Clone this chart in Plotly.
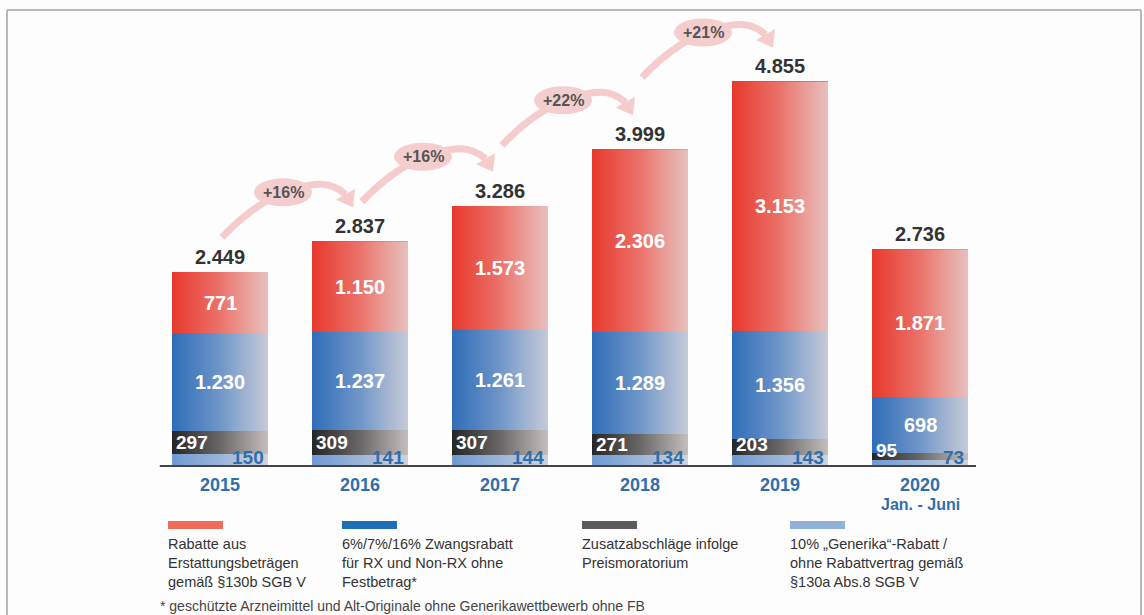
import plotly.graph_objects as go

# ---------------- data ----------------
years = ["2015", "2016", "2017", "2018", "2019", "2020"]
year_sub = ["", "", "", "", "", "Jan. - Juni"]
generika = [150, 141, 144, 134, 143, 73]          # 10% Generika-Rabatt (light blue)
moratorium = [297, 309, 307, 271, 203, 95]        # Zusatzabschläge Preismoratorium (dark gray)
zwangsrabatt = [1230, 1237, 1261, 1289, 1356, 698]  # 6/7/16% Zwangsrabatt (blue)
erstattung = [771, 1150, 1573, 2306, 3153, 1871]  # Erstattungsbeträge §130b (red)
totals = [2449, 2837, 3286, 3999, 4855, 2736]
growth_labels = ["+16%", "+16%", "+22%", "+21%"]

def de(v):
    return f"{v:,}".replace(",", ".")

# ---------------- layout geometry ----------------
W, H = 1144, 615
X_ORIGIN_PX, PX_PER_CAT = 220, 140
Y_BASE_PX, PX_PER_UNIT = 466, 0.0792
BAR_W = 96 / PX_PER_CAT

xr = [-X_ORIGIN_PX / PX_PER_CAT, (W - X_ORIGIN_PX) / PX_PER_CAT]
yr = [-(H - Y_BASE_PX) / PX_PER_UNIT, Y_BASE_PX / PX_PER_UNIT]

def dpx(xv, yv):
    return X_ORIGIN_PX + PX_PER_CAT * xv, Y_BASE_PX - PX_PER_UNIT * yv

def pp(px, py):
    return px / W, 1 - py / H

FONT = "Arial, Liberation Sans, sans-serif"
BLUE_TXT = "#2f6eaa"
NUM_SIZE = 20

xs = list(range(len(years)))

fig = go.Figure()
series = [
    ("10% „Generika“-Rabatt", generika, "#6f9bd2"),
    ("Zusatzabschläge", moratorium, "#262626"),
    ("Zwangsrabatt", zwangsrabatt, "#2f6db8"),
    ("Erstattungsbeträge", erstattung, "#e8382c"),
]
for name, vals, col in series:
    fig.add_trace(go.Bar(x=xs, y=vals, name=name, width=BAR_W,
                         marker=dict(color=col, line=dict(width=0)),
                         showlegend=False, hoverinfo="skip"))

# gradient sheen over each bar (left saturated -> right pale)
for i, t in enumerate(totals):
    fig.add_trace(go.Scatter(
        x=[i - BAR_W / 2, i + BAR_W / 2, i + BAR_W / 2, i - BAR_W / 2, i - BAR_W / 2],
        y=[0, 0, t, t, 0], mode="lines", fill="toself",
        line=dict(width=0), showlegend=False, hoverinfo="skip",
        fillgradient=dict(type="horizontal",
                          colorscale=[[0, "rgba(240,232,232,0.0)"],
                                      [0.5, "rgba(240,232,232,0.33)"],
                                      [1, "rgba(230,222,222,0.82)"]])))

fig.update_layout(
    barmode="stack", bargap=0,
    width=W, height=H, margin=dict(l=0, r=0, t=0, b=0),
    paper_bgcolor="#fdfdfd", plot_bgcolor="#fdfdfd",
    xaxis=dict(range=xr, visible=False, fixedrange=True),
    yaxis=dict(range=yr, visible=False, fixedrange=True),
    showlegend=False,
)

shapes = []
ann = []

# baseline
shapes.append(dict(type="line", xref="x", yref="y", x0=-0.43, x1=5.4, y0=0, y1=0,
                   line=dict(color="#444444", width=2)))

# frame
fx0, fy0 = pp(7, 10)
fx1, _ = pp(1141, 10)
_, fyb = pp(0, H + 5)
for (a0, a1, b0, b1) in [(fx0, fx1, fy0, fy0), (fx0, fx0, fy0, fyb), (fx1, fx1, fy0, fyb)]:
    shapes.append(dict(type="line", xref="paper", yref="paper", x0=a0, x1=a1, y0=b0, y1=b1,
                       line=dict(color="#b8b8b8", width=2)))

# value labels
for i in xs:
    g, m, z, e, t = generika[i], moratorium[i], zwangsrabatt[i], erstattung[i], totals[i]
    ann.append(dict(x=i, y=t, xref="x", yref="y", text=f"<b>{de(t)}</b>", showarrow=False,
                    yanchor="bottom", yshift=2, font=dict(family=FONT, size=NUM_SIZE, color="#333333")))
    ann.append(dict(x=i, y=g + m + z + e / 2, xref="x", yref="y", text=f"<b>{de(e)}</b>",
                    showarrow=False, font=dict(family=FONT, size=NUM_SIZE, color="white")))
    ann.append(dict(x=i, y=g + m + z / 2, xref="x", yref="y", text=f"<b>{de(z)}</b>",
                    showarrow=False, font=dict(family=FONT, size=NUM_SIZE, color="white")))
    seg_px = m * PX_PER_UNIT
    ys = max(0, (20 - seg_px) / 2)
    ann.append(dict(x=i - BAR_W / 2, y=g + m / 2, xref="x", yref="y", text=f"<b>{de(m)}</b>",
                    showarrow=False, xanchor="left", xshift=2, yshift=ys,
                    font=dict(family=FONT, size=NUM_SIZE - 1, color="white")))
    ann.append(dict(x=i + BAR_W / 2, y=0, xref="x", yref="y", text=f"<b>{de(g)}</b>",
                    showarrow=False, xanchor="right", xshift=-2, yshift=9,
                    font=dict(family=FONT, size=NUM_SIZE - 1, color=BLUE_TXT)))
    ann.append(dict(x=i, y=0, xref="x", yref="y", text=f"<b>{years[i]}</b>", showarrow=False,
                    yshift=-19, font=dict(family=FONT, size=18, color=BLUE_TXT)))
    if year_sub[i]:
        ann.append(dict(x=i, y=0, xref="x", yref="y", text=f"<b>{year_sub[i]}</b>",
                        showarrow=False, yshift=-38, font=dict(family=FONT, size=16, color=BLUE_TXT)))

# growth arrows
ARROW_COL = "rgba(244,200,200,0.95)"
for k, lab in enumerate(growth_labels):
    cx_i, top_i = dpx(k, totals[k])
    cx_n, top_n = dpx(k + 1, totals[k + 1])
    tx, ty = cx_n - 7, top_n - 34
    ex, ey = cx_i + 63, ty - 15
    sx, sy = cx_i + 2, ty + 30
    dx, dy = 0.5, 0.866
    bx, by = tx - 15 * dx, ty - 15 * dy
    nx, ny = -dy, dx
    p = lambda X, Y: "%.5f,%.5f" % pp(X, Y)
    shapes.append(dict(type="path", xref="paper", yref="paper",
                       path=f"M {p(sx, sy)} Q {p(sx + 28, sy - 30)} {p(ex, ey)}",
                       line=dict(color=ARROW_COL, width=7)))
    shapes.append(dict(type="path", xref="paper", yref="paper",
                       path=f"M {p(ex, ey)} C {p(ex + 35, ey - 12)} {p(bx - 14, ey - 10)} {p(bx, by)}",
                       line=dict(color=ARROW_COL, width=7)))
    shapes.append(dict(type="path", xref="paper", yref="paper",
                       path=f"M {p(tx, ty)} L {p(bx + 11 * nx, by + 11 * ny)} L {p(bx - 11 * nx, by - 11 * ny)} Z",
                       fillcolor=ARROW_COL, line=dict(width=0)))
    e0x, e0y = pp(ex - 29, ey - 14)
    e1x, e1y = pp(ex + 29, ey + 14)
    shapes.append(dict(type="circle", xref="paper", yref="paper", x0=e0x, x1=e1x, y0=e1y, y1=e0y,
                       fillcolor="#f4cdcd", line=dict(width=0)))
    axp, ayp = pp(ex, ey)
    ann.append(dict(x=axp, y=ayp, xref="paper", yref="paper", text=f"<b>{lab}</b>",
                    showarrow=False, xanchor="center", yanchor="middle",
                    font=dict(family=FONT, size=16, color="#555555")))

# custom legend
legend_items = [
    ("Rabatte aus<br>Erstattungsbeträgen<br>gemäß §130b SGB V", "#ef6c5a", 168),
    ("6%/7%/16% Zwangsrabatt<br>für RX und Non-RX ohne<br>Festbetrag*", "#1f6fb6", 342),
    ("Zusatzabschläge infolge<br>Preismoratorium", "#5b5b5b", 582),
    ("10% „Generika“-Rabatt /<br>ohne Rabattvertrag gemäß<br>§130a Abs.8 SGB V", "#8fb1da", 790),
]
for text, col, lx in legend_items:
    x0, y0 = pp(lx, 521)
    x1, y1 = pp(lx + 55, 529)
    shapes.append(dict(type="rect", xref="paper", yref="paper", x0=x0, x1=x1, y0=y1, y1=y0,
                       fillcolor=col, line=dict(width=0)))
    ax, ay = pp(lx - 2, 534)
    ann.append(dict(x=ax, y=ay, xref="paper", yref="paper", text=text, showarrow=False,
                    xanchor="left", yanchor="top", align="left",
                    font=dict(family=FONT, size=14.5, color="#333333")))

fx, fy = pp(158, 616)
ann.append(dict(x=fx, y=fy, xref="paper", yref="paper",
                text="* geschützte Arzneimittel und Alt-Originale ohne Generikawettbewerb ohne FB",
                showarrow=False, xanchor="left", yanchor="bottom",
                font=dict(family=FONT, size=14, color="#444444")))

fig.update_layout(shapes=shapes, annotations=ann)
fig.write_html("out.html")
